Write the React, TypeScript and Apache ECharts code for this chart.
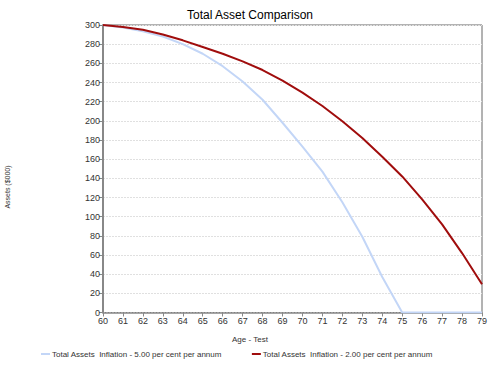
import React, { useEffect, useRef } from "react";
import * as echarts from "echarts";

const ages = ["60","61","62","63","64","65","66","67","68","69","70","71","72","73","74","75","76","77","78","79"];
const inflation5 = [300, 297.5, 293.5, 288, 280, 270, 257, 241, 222, 198, 173, 147, 115, 79, 37, 0, 0, 0, 0, 0];
const inflation2 = [300, 298, 295, 290, 284, 277, 270, 262, 253, 242, 229.5, 215.5, 199.5, 182, 162.5, 142, 118, 92, 62, 29.5];
const seriesNames = [
  "Total Assets  Inflation - 5.00 per cent per annum",
  "Total Assets  Inflation - 2.00 per cent per annum",
];
const titleText = "Total Asset Comparison";
const xName = "Age - Test";
const yName = "Assets ($000)";

export default function App() {
  const ref = useRef<HTMLDivElement>(null);
  useEffect(() => {
    if (!ref.current) return;
    const chart = echarts.init(ref.current, undefined, { renderer: "svg" });
    const font = "Liberation Sans, Arial, sans-serif";
    chart.setOption({
      animation: false,
      backgroundColor: "#ffffff",
      textStyle: { fontFamily: font },
      title: {
        text: titleText,
        left: "center",
        top: 4,
        textStyle: { fontSize: 12, fontWeight: "normal", color: "#000", fontFamily: font },
      },
      grid: {
        left: 103,
        right: 18,
        top: 25,
        bottom: 62.5,
        show: true,
        borderColor: "#666",
        borderWidth: 1,
        backgroundColor: "transparent",
      },
      legend: {
        bottom: 12,
        left: 36,
        itemGap: 30,
        itemWidth: 9,
        itemHeight: 2,
        icon: "rect",
        textStyle: { fontSize: 8, color: "#333", fontFamily: font, padding: [0, 0, 0, -3] },
        data: seriesNames,
      },
      graphic: [
        {
          type: "text",
          left: "center",
          top: 335,
          style: { text: xName, fontSize: 8, fill: "#333", fontFamily: font },
        },
        {
          type: "text",
          x: 4,
          y: 187,
          rotation: Math.PI / 2,
          style: { text: yName, fontSize: 7, fill: "#333", fontFamily: font, align: "center", verticalAlign: "top" },
        },
      ],
      xAxis: {
        type: "category",
        data: ages,
        boundaryGap: false,
        axisLine: { lineStyle: { color: "#888", width: 1.5 } },
        axisTick: { show: true, length: 4, lineStyle: { color: "#888" }, interval: 0 },
        axisLabel: { fontSize: 9, color: "#333", margin: 4, interval: 0 },
        splitLine: { show: false },
      },
      yAxis: {
        type: "value",
        min: 0,
        max: 300,
        interval: 20,
        axisLine: { show: true, lineStyle: { color: "#888", width: 2 } },
        axisTick: { show: true, length: 4, lineStyle: { color: "#888" } },
        axisLabel: { fontSize: 9, color: "#333", margin: 3 },
        splitLine: { show: true, lineStyle: { color: "#e0e0e0", type: [2, 1], width: 1 } },
      },
      series: [
        {
          name: seriesNames[0],
          type: "line",
          data: inflation5,
          smooth: false,
          showSymbol: false,
          lineStyle: { color: "#c3d6f7", width: 2 },
          itemStyle: { color: "#c3d6f7" },
        },
        {
          name: seriesNames[1],
          type: "line",
          data: inflation2,
          smooth: false,
          showSymbol: false,
          lineStyle: { color: "#a00d0d", width: 2 },
          itemStyle: { color: "#a00d0d" },
        },
      ],
    });
    return () => chart.dispose();
  }, []);
  return <div ref={ref} style={{ width: 500, height: 375, position: "absolute", left: 0, top: 0 }} />;
}
